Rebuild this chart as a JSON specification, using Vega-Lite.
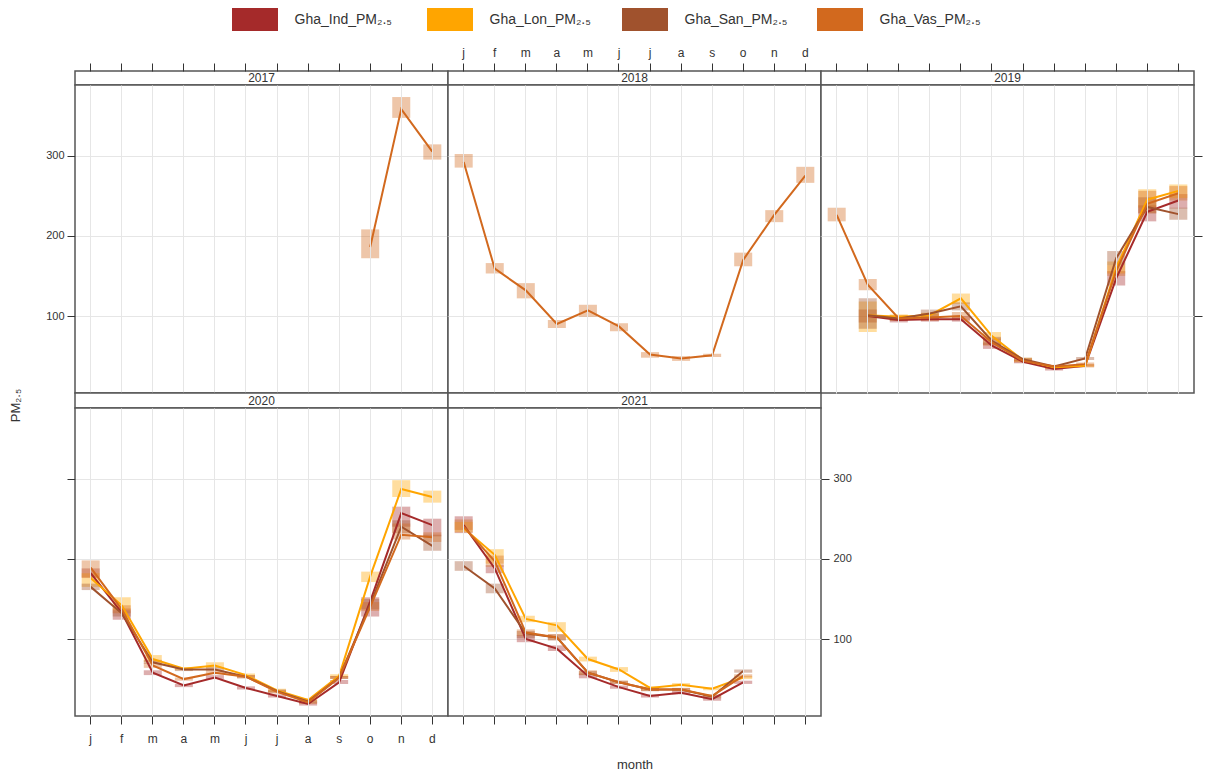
{
  "$schema": "https://vega.github.io/schema/vega-lite/v6.json",
  "background": "white",
  "padding": {"left": 8, "top": 8, "right": 4, "bottom": 4},
  "datasets": {
    "pm": [
      {"year":2017,"month":10,"site":"Gha_Vas_PM₂.₅","value":186,"lo":172,"hi":208},
      {"year":2017,"month":11,"site":"Gha_Vas_PM₂.₅","value":358,"lo":347,"hi":373},
      {"year":2017,"month":12,"site":"Gha_Vas_PM₂.₅","value":305,"lo":295,"hi":314},

      {"year":2018,"month":1,"site":"Gha_Vas_PM₂.₅","value":292,"lo":285,"hi":302},
      {"year":2018,"month":2,"site":"Gha_Vas_PM₂.₅","value":159,"lo":153,"hi":166},
      {"year":2018,"month":3,"site":"Gha_Vas_PM₂.₅","value":132,"lo":122,"hi":141},
      {"year":2018,"month":4,"site":"Gha_Vas_PM₂.₅","value":90,"lo":85,"hi":95},
      {"year":2018,"month":5,"site":"Gha_Vas_PM₂.₅","value":107,"lo":99,"hi":114},
      {"year":2018,"month":6,"site":"Gha_Vas_PM₂.₅","value":87,"lo":81,"hi":91},
      {"year":2018,"month":7,"site":"Gha_Vas_PM₂.₅","value":52,"lo":48,"hi":55},
      {"year":2018,"month":8,"site":"Gha_Vas_PM₂.₅","value":47,"lo":44,"hi":50},
      {"year":2018,"month":9,"site":"Gha_Vas_PM₂.₅","value":51,"lo":49,"hi":53},
      {"year":2018,"month":10,"site":"Gha_Vas_PM₂.₅","value":170,"lo":162,"hi":179},
      {"year":2018,"month":11,"site":"Gha_Vas_PM₂.₅","value":226,"lo":217,"hi":232},
      {"year":2018,"month":12,"site":"Gha_Vas_PM₂.₅","value":275,"lo":266,"hi":286},

      {"year":2019,"month":2,"site":"Gha_Ind_PM₂.₅","value":100,"lo":92,"hi":108},
      {"year":2019,"month":3,"site":"Gha_Ind_PM₂.₅","value":95,"lo":92,"hi":98},
      {"year":2019,"month":4,"site":"Gha_Ind_PM₂.₅","value":96,"lo":93,"hi":99},
      {"year":2019,"month":5,"site":"Gha_Ind_PM₂.₅","value":96,"lo":93,"hi":100},
      {"year":2019,"month":6,"site":"Gha_Ind_PM₂.₅","value":63,"lo":59,"hi":67},
      {"year":2019,"month":7,"site":"Gha_Ind_PM₂.₅","value":43,"lo":41,"hi":45},
      {"year":2019,"month":8,"site":"Gha_Ind_PM₂.₅","value":34,"lo":32,"hi":36},
      {"year":2019,"month":9,"site":"Gha_Ind_PM₂.₅","value":38,"lo":36,"hi":40},
      {"year":2019,"month":10,"site":"Gha_Ind_PM₂.₅","value":147,"lo":138,"hi":156},
      {"year":2019,"month":11,"site":"Gha_Ind_PM₂.₅","value":230,"lo":218,"hi":238},
      {"year":2019,"month":12,"site":"Gha_Ind_PM₂.₅","value":244,"lo":234,"hi":252},

      {"year":2019,"month":2,"site":"Gha_Lon_PM₂.₅","value":101,"lo":80,"hi":118},
      {"year":2019,"month":3,"site":"Gha_Lon_PM₂.₅","value":99,"lo":96,"hi":102},
      {"year":2019,"month":4,"site":"Gha_Lon_PM₂.₅","value":101,"lo":97,"hi":104},
      {"year":2019,"month":5,"site":"Gha_Lon_PM₂.₅","value":122,"lo":115,"hi":128},
      {"year":2019,"month":6,"site":"Gha_Lon_PM₂.₅","value":75,"lo":70,"hi":80},
      {"year":2019,"month":7,"site":"Gha_Lon_PM₂.₅","value":45,"lo":43,"hi":48},
      {"year":2019,"month":8,"site":"Gha_Lon_PM₂.₅","value":36,"lo":34,"hi":38},
      {"year":2019,"month":9,"site":"Gha_Lon_PM₂.₅","value":38,"lo":36,"hi":40},
      {"year":2019,"month":10,"site":"Gha_Lon_PM₂.₅","value":160,"lo":153,"hi":168},
      {"year":2019,"month":11,"site":"Gha_Lon_PM₂.₅","value":245,"lo":235,"hi":258},
      {"year":2019,"month":12,"site":"Gha_Lon_PM₂.₅","value":256,"lo":247,"hi":264},

      {"year":2019,"month":2,"site":"Gha_San_PM₂.₅","value":101,"lo":84,"hi":122},
      {"year":2019,"month":3,"site":"Gha_San_PM₂.₅","value":97,"lo":94,"hi":100},
      {"year":2019,"month":4,"site":"Gha_San_PM₂.₅","value":103,"lo":98,"hi":108},
      {"year":2019,"month":5,"site":"Gha_San_PM₂.₅","value":112,"lo":107,"hi":117},
      {"year":2019,"month":6,"site":"Gha_San_PM₂.₅","value":69,"lo":64,"hi":74},
      {"year":2019,"month":7,"site":"Gha_San_PM₂.₅","value":46,"lo":44,"hi":48},
      {"year":2019,"month":8,"site":"Gha_San_PM₂.₅","value":37,"lo":35,"hi":39},
      {"year":2019,"month":9,"site":"Gha_San_PM₂.₅","value":47,"lo":45,"hi":49},
      {"year":2019,"month":10,"site":"Gha_San_PM₂.₅","value":172,"lo":163,"hi":181},
      {"year":2019,"month":11,"site":"Gha_San_PM₂.₅","value":236,"lo":228,"hi":248},
      {"year":2019,"month":12,"site":"Gha_San_PM₂.₅","value":227,"lo":220,"hi":235},

      {"year":2019,"month":1,"site":"Gha_Vas_PM₂.₅","value":226,"lo":218,"hi":235},
      {"year":2019,"month":2,"site":"Gha_Vas_PM₂.₅","value":139,"lo":132,"hi":146},
      {"year":2019,"month":3,"site":"Gha_Vas_PM₂.₅","value":97,"lo":94,"hi":101},
      {"year":2019,"month":4,"site":"Gha_Vas_PM₂.₅","value":98,"lo":94,"hi":103},
      {"year":2019,"month":5,"site":"Gha_Vas_PM₂.₅","value":100,"lo":95,"hi":105},
      {"year":2019,"month":6,"site":"Gha_Vas_PM₂.₅","value":67,"lo":63,"hi":72},
      {"year":2019,"month":7,"site":"Gha_Vas_PM₂.₅","value":44,"lo":42,"hi":47},
      {"year":2019,"month":8,"site":"Gha_Vas_PM₂.₅","value":37,"lo":35,"hi":39},
      {"year":2019,"month":9,"site":"Gha_Vas_PM₂.₅","value":40,"lo":38,"hi":42},
      {"year":2019,"month":10,"site":"Gha_Vas_PM₂.₅","value":156,"lo":150,"hi":163},
      {"year":2019,"month":11,"site":"Gha_Vas_PM₂.₅","value":240,"lo":228,"hi":256},
      {"year":2019,"month":12,"site":"Gha_Vas_PM₂.₅","value":253,"lo":244,"hi":262},

      {"year":2020,"month":1,"site":"Gha_Ind_PM₂.₅","value":182,"lo":176,"hi":188},
      {"year":2020,"month":2,"site":"Gha_Ind_PM₂.₅","value":133,"lo":124,"hi":138},
      {"year":2020,"month":3,"site":"Gha_Ind_PM₂.₅","value":58,"lo":55,"hi":61},
      {"year":2020,"month":4,"site":"Gha_Ind_PM₂.₅","value":42,"lo":40,"hi":44},
      {"year":2020,"month":5,"site":"Gha_Ind_PM₂.₅","value":52,"lo":50,"hi":55},
      {"year":2020,"month":6,"site":"Gha_Ind_PM₂.₅","value":39,"lo":37,"hi":41},
      {"year":2020,"month":7,"site":"Gha_Ind_PM₂.₅","value":29,"lo":27,"hi":31},
      {"year":2020,"month":8,"site":"Gha_Ind_PM₂.₅","value":19,"lo":17,"hi":21},
      {"year":2020,"month":9,"site":"Gha_Ind_PM₂.₅","value":46,"lo":44,"hi":49},
      {"year":2020,"month":10,"site":"Gha_Ind_PM₂.₅","value":147,"lo":128,"hi":152},
      {"year":2020,"month":11,"site":"Gha_Ind_PM₂.₅","value":257,"lo":240,"hi":265},
      {"year":2020,"month":12,"site":"Gha_Ind_PM₂.₅","value":242,"lo":228,"hi":250},

      {"year":2020,"month":1,"site":"Gha_Lon_PM₂.₅","value":176,"lo":165,"hi":182},
      {"year":2020,"month":2,"site":"Gha_Lon_PM₂.₅","value":142,"lo":136,"hi":152},
      {"year":2020,"month":3,"site":"Gha_Lon_PM₂.₅","value":75,"lo":71,"hi":80},
      {"year":2020,"month":4,"site":"Gha_Lon_PM₂.₅","value":63,"lo":61,"hi":65},
      {"year":2020,"month":5,"site":"Gha_Lon_PM₂.₅","value":67,"lo":64,"hi":71},
      {"year":2020,"month":6,"site":"Gha_Lon_PM₂.₅","value":55,"lo":53,"hi":57},
      {"year":2020,"month":7,"site":"Gha_Lon_PM₂.₅","value":36,"lo":34,"hi":38},
      {"year":2020,"month":8,"site":"Gha_Lon_PM₂.₅","value":24,"lo":22,"hi":26},
      {"year":2020,"month":9,"site":"Gha_Lon_PM₂.₅","value":54,"lo":52,"hi":56},
      {"year":2020,"month":10,"site":"Gha_Lon_PM₂.₅","value":178,"lo":171,"hi":184},
      {"year":2020,"month":11,"site":"Gha_Lon_PM₂.₅","value":287,"lo":277,"hi":298},
      {"year":2020,"month":12,"site":"Gha_Lon_PM₂.₅","value":277,"lo":270,"hi":285},

      {"year":2020,"month":1,"site":"Gha_San_PM₂.₅","value":165,"lo":161,"hi":169},
      {"year":2020,"month":2,"site":"Gha_San_PM₂.₅","value":132,"lo":128,"hi":136},
      {"year":2020,"month":3,"site":"Gha_San_PM₂.₅","value":71,"lo":69,"hi":74},
      {"year":2020,"month":4,"site":"Gha_San_PM₂.₅","value":62,"lo":60,"hi":64},
      {"year":2020,"month":5,"site":"Gha_San_PM₂.₅","value":62,"lo":60,"hi":65},
      {"year":2020,"month":6,"site":"Gha_San_PM₂.₅","value":53,"lo":51,"hi":55},
      {"year":2020,"month":7,"site":"Gha_San_PM₂.₅","value":35,"lo":33,"hi":37},
      {"year":2020,"month":8,"site":"Gha_San_PM₂.₅","value":22,"lo":20,"hi":24},
      {"year":2020,"month":9,"site":"Gha_San_PM₂.₅","value":52,"lo":50,"hi":54},
      {"year":2020,"month":10,"site":"Gha_San_PM₂.₅","value":143,"lo":137,"hi":150},
      {"year":2020,"month":11,"site":"Gha_San_PM₂.₅","value":240,"lo":232,"hi":248},
      {"year":2020,"month":12,"site":"Gha_San_PM₂.₅","value":216,"lo":210,"hi":230},

      {"year":2020,"month":1,"site":"Gha_Vas_PM₂.₅","value":189,"lo":177,"hi":198},
      {"year":2020,"month":2,"site":"Gha_Vas_PM₂.₅","value":137,"lo":132,"hi":142},
      {"year":2020,"month":3,"site":"Gha_Vas_PM₂.₅","value":67,"lo":64,"hi":70},
      {"year":2020,"month":4,"site":"Gha_Vas_PM₂.₅","value":50,"lo":48,"hi":52},
      {"year":2020,"month":5,"site":"Gha_Vas_PM₂.₅","value":58,"lo":56,"hi":60},
      {"year":2020,"month":6,"site":"Gha_Vas_PM₂.₅","value":53,"lo":51,"hi":55},
      {"year":2020,"month":7,"site":"Gha_Vas_PM₂.₅","value":34,"lo":32,"hi":36},
      {"year":2020,"month":8,"site":"Gha_Vas_PM₂.₅","value":21,"lo":19,"hi":23},
      {"year":2020,"month":9,"site":"Gha_Vas_PM₂.₅","value":52,"lo":50,"hi":54},
      {"year":2020,"month":10,"site":"Gha_Vas_PM₂.₅","value":140,"lo":135,"hi":146},
      {"year":2020,"month":11,"site":"Gha_Vas_PM₂.₅","value":230,"lo":224,"hi":244},
      {"year":2020,"month":12,"site":"Gha_Vas_PM₂.₅","value":227,"lo":221,"hi":233},

      {"year":2021,"month":1,"site":"Gha_Ind_PM₂.₅","value":242,"lo":232,"hi":253},
      {"year":2021,"month":2,"site":"Gha_Ind_PM₂.₅","value":188,"lo":182,"hi":192},
      {"year":2021,"month":3,"site":"Gha_Ind_PM₂.₅","value":100,"lo":96,"hi":105},
      {"year":2021,"month":4,"site":"Gha_Ind_PM₂.₅","value":88,"lo":85,"hi":92},
      {"year":2021,"month":5,"site":"Gha_Ind_PM₂.₅","value":54,"lo":51,"hi":57},
      {"year":2021,"month":6,"site":"Gha_Ind_PM₂.₅","value":40,"lo":38,"hi":42},
      {"year":2021,"month":7,"site":"Gha_Ind_PM₂.₅","value":29,"lo":27,"hi":31},
      {"year":2021,"month":8,"site":"Gha_Ind_PM₂.₅","value":33,"lo":31,"hi":35},
      {"year":2021,"month":9,"site":"Gha_Ind_PM₂.₅","value":25,"lo":23,"hi":27},
      {"year":2021,"month":10,"site":"Gha_Ind_PM₂.₅","value":46,"lo":44,"hi":48},

      {"year":2021,"month":1,"site":"Gha_Lon_PM₂.₅","value":238,"lo":233,"hi":246},
      {"year":2021,"month":2,"site":"Gha_Lon_PM₂.₅","value":205,"lo":194,"hi":212},
      {"year":2021,"month":3,"site":"Gha_Lon_PM₂.₅","value":125,"lo":121,"hi":129},
      {"year":2021,"month":4,"site":"Gha_Lon_PM₂.₅","value":117,"lo":109,"hi":121},
      {"year":2021,"month":5,"site":"Gha_Lon_PM₂.₅","value":75,"lo":72,"hi":78},
      {"year":2021,"month":6,"site":"Gha_Lon_PM₂.₅","value":62,"lo":59,"hi":65},
      {"year":2021,"month":7,"site":"Gha_Lon_PM₂.₅","value":39,"lo":37,"hi":41},
      {"year":2021,"month":8,"site":"Gha_Lon_PM₂.₅","value":43,"lo":41,"hi":45},
      {"year":2021,"month":9,"site":"Gha_Lon_PM₂.₅","value":38,"lo":36,"hi":40},
      {"year":2021,"month":10,"site":"Gha_Lon_PM₂.₅","value":52,"lo":50,"hi":54},

      {"year":2021,"month":1,"site":"Gha_San_PM₂.₅","value":191,"lo":185,"hi":197},
      {"year":2021,"month":2,"site":"Gha_San_PM₂.₅","value":163,"lo":157,"hi":169},
      {"year":2021,"month":3,"site":"Gha_San_PM₂.₅","value":107,"lo":101,"hi":110},
      {"year":2021,"month":4,"site":"Gha_San_PM₂.₅","value":102,"lo":98,"hi":106},
      {"year":2021,"month":5,"site":"Gha_San_PM₂.₅","value":58,"lo":55,"hi":60},
      {"year":2021,"month":6,"site":"Gha_San_PM₂.₅","value":46,"lo":44,"hi":48},
      {"year":2021,"month":7,"site":"Gha_San_PM₂.₅","value":37,"lo":35,"hi":39},
      {"year":2021,"month":8,"site":"Gha_San_PM₂.₅","value":37,"lo":35,"hi":39},
      {"year":2021,"month":9,"site":"Gha_San_PM₂.₅","value":28,"lo":26,"hi":30},
      {"year":2021,"month":10,"site":"Gha_San_PM₂.₅","value":60,"lo":58,"hi":62},

      {"year":2021,"month":1,"site":"Gha_Vas_PM₂.₅","value":240,"lo":236,"hi":249},
      {"year":2021,"month":2,"site":"Gha_Vas_PM₂.₅","value":197,"lo":190,"hi":204},
      {"year":2021,"month":3,"site":"Gha_Vas_PM₂.₅","value":108,"lo":104,"hi":112},
      {"year":2021,"month":4,"site":"Gha_Vas_PM₂.₅","value":102,"lo":99,"hi":106},
      {"year":2021,"month":5,"site":"Gha_Vas_PM₂.₅","value":58,"lo":55,"hi":61},
      {"year":2021,"month":6,"site":"Gha_Vas_PM₂.₅","value":46,"lo":44,"hi":48},
      {"year":2021,"month":7,"site":"Gha_Vas_PM₂.₅","value":37,"lo":35,"hi":39},
      {"year":2021,"month":8,"site":"Gha_Vas_PM₂.₅","value":37,"lo":35,"hi":39},
      {"year":2021,"month":9,"site":"Gha_Vas_PM₂.₅","value":29,"lo":27,"hi":31},
      {"year":2021,"month":10,"site":"Gha_Vas_PM₂.₅","value":54,"lo":52,"hi":56}
    ]
  },
  "config": {
    "font": "Liberation Sans",
    "view": {"stroke": "#555555", "strokeWidth": 1.5, "fill": "white"},
    "concat": {"spacing": 0},
    "axis": {
      "domain": false,
      "tickColor": "#333333",
      "tickWidth": 1,
      "tickSize": 8,
      "labelFontSize": 11,
      "labelColor": "#333333",
      "gridColor": "#e6e6e6",
      "gridWidth": 1,
      "titleFontWeight": "normal",
      "titleColor": "#333333",
      "titleFontSize": 13
    },
    "legend": {
      "orient": "none",
      "legendX": 168.5,
      "legendY": -63,
      "direction": "horizontal",
      "symbolType": "M-2,-1H2V1H-2Z",
      "symbolSize": 529,
      "symbolStrokeWidth": 0,
      "symbolOpacity": 1,
      "labelFontSize": 14,
      "labelColor": "#333333",
      "labelOffset": 28,
      "gridAlign": "all",
      "columnPadding": 29,
      "padding": 0
    }
  },
  "spacing": 0,
  "bounds": "flush",
  "columns": 3,
  "concat": [
    {"width": 373, "height": 14, "data": {"values": [{"year": "2017"}]}, "layer": [{"mark": {"type": "rect", "fill": "white", "stroke": "#555555", "strokeWidth": 1.5}}, {"mark": {"type": "text", "fontSize": 12, "color": "#333333"}, "encoding": {"text": {"field": "year"}}}]},
    {"width": 373, "height": 14, "data": {"values": [{"year": "2018"}]}, "layer": [{"mark": {"type": "rect", "fill": "white", "stroke": "#555555", "strokeWidth": 1.5}}, {"mark": {"type": "text", "fontSize": 12, "color": "#333333"}, "encoding": {"text": {"field": "year"}}}]},
    {"width": 373, "height": 14, "data": {"values": [{"year": "2019"}]}, "layer": [{"mark": {"type": "rect", "fill": "white", "stroke": "#555555", "strokeWidth": 1.5}}, {"mark": {"type": "text", "fontSize": 12, "color": "#333333"}, "encoding": {"text": {"field": "year"}}}]},
    {
      "width": 373, "height": 308,
      "data": {"name": "pm"},
      "transform": [{"filter": "datum.year == 2017"}],
      "encoding": {
        "x": {"field": "month", "type": "ordinal", "scale": {"type": "band", "domain": [1,2,3,4,5,6,7,8,9,10,11,12], "paddingInner": 0.42, "paddingOuter": 0.215},
              "axis": {"orient": "top", "offset": 14, "labels": false, "ticks": true, "grid": true, "title": null}},
        "color": {"field": "site", "type": "nominal", "scale": {"domain": ["Gha_Ind_PM₂.₅","Gha_Lon_PM₂.₅","Gha_San_PM₂.₅","Gha_Vas_PM₂.₅"], "range": ["#A52A2A","#FFA500","#A0522D","#D2691E"]}, "legend": {"title": null}}
      },
      "layer": [
        {"mark": {"type": "rect", "fillOpacity": 0.38}, "encoding": {"y": {"field": "lo", "type": "quantitative", "scale": {"domain": [4, 388], "nice": false, "zero": false},
          "axis": {"orient": "left", "values": [100, 200, 300], "labels": true, "ticks": true, "grid": true, "labelPadding": 3, "title": "PM₂.₅", "titleX": -60, "titleY": 320, "titleAngle": 270, "titleAlign": "center", "titleBaseline": "middle"}}, "y2": {"field": "hi"}}},
        {"mark": {"type": "line", "strokeWidth": 2}, "encoding": {"y": {"field": "value", "type": "quantitative", "scale": {"domain": [4, 388], "nice": false, "zero": false},
          "axis": {"orient": "left", "values": [100, 200, 300], "labels": true, "ticks": true, "grid": true, "labelPadding": 3, "title": "PM₂.₅", "titleX": -60, "titleY": 320, "titleAngle": 270, "titleAlign": "center", "titleBaseline": "middle"}}}}
      ]
    },
    {
      "width": 373, "height": 308,
      "data": {"name": "pm"},
      "transform": [{"filter": "datum.year == 2018"}],
      "encoding": {
        "x": {"field": "month", "type": "ordinal", "scale": {"type": "band", "domain": [1,2,3,4,5,6,7,8,9,10,11,12], "paddingInner": 0.42, "paddingOuter": 0.215},
              "axis": {"orient": "top", "offset": 14, "labels": true, "labelAngle": 0, "labelPadding": 4, "labelFontSize": 12, "labelExpr": "['j','f','m','a','m','j','j','a','s','o','n','d'][datum.value-1]", "ticks": true, "grid": true, "title": null}},
        "color": {"field": "site", "type": "nominal", "scale": {"domain": ["Gha_Ind_PM₂.₅","Gha_Lon_PM₂.₅","Gha_San_PM₂.₅","Gha_Vas_PM₂.₅"], "range": ["#A52A2A","#FFA500","#A0522D","#D2691E"]}, "legend": {"title": null}}
      },
      "layer": [
        {"mark": {"type": "rect", "fillOpacity": 0.38}, "encoding": {"y": {"field": "lo", "type": "quantitative", "scale": {"domain": [4, 388], "nice": false, "zero": false},
          "axis": {"orient": "left", "values": [100, 200, 300], "labels": false, "ticks": false, "grid": true, "title": null}}, "y2": {"field": "hi"}}},
        {"mark": {"type": "line", "strokeWidth": 2}, "encoding": {"y": {"field": "value", "type": "quantitative", "scale": {"domain": [4, 388], "nice": false, "zero": false},
          "axis": {"orient": "left", "values": [100, 200, 300], "labels": false, "ticks": false, "grid": true, "title": null}}}}
      ]
    },
    {
      "width": 373, "height": 308,
      "data": {"name": "pm"},
      "transform": [{"filter": "datum.year == 2019"}],
      "encoding": {
        "x": {"field": "month", "type": "ordinal", "scale": {"type": "band", "domain": [1,2,3,4,5,6,7,8,9,10,11,12], "paddingInner": 0.42, "paddingOuter": 0.215},
              "axis": {"orient": "top", "offset": 14, "labels": false, "ticks": true, "grid": true, "title": null}},
        "color": {"field": "site", "type": "nominal", "scale": {"domain": ["Gha_Ind_PM₂.₅","Gha_Lon_PM₂.₅","Gha_San_PM₂.₅","Gha_Vas_PM₂.₅"], "range": ["#A52A2A","#FFA500","#A0522D","#D2691E"]}, "legend": {"title": null}}
      },
      "layer": [
        {"mark": {"type": "rect", "fillOpacity": 0.38}, "encoding": {"y": {"field": "lo", "type": "quantitative", "scale": {"domain": [4, 388], "nice": false, "zero": false},
          "axis": {"orient": "right", "values": [100, 200, 300], "labels": false, "ticks": true, "grid": true, "title": null}}, "y2": {"field": "hi"}}},
        {"mark": {"type": "line", "strokeWidth": 2}, "encoding": {"y": {"field": "value", "type": "quantitative", "scale": {"domain": [4, 388], "nice": false, "zero": false},
          "axis": {"orient": "right", "values": [100, 200, 300], "labels": false, "ticks": true, "grid": true, "title": null}}}}
      ]
    },
    {"width": 373, "height": 15, "data": {"values": [{"year": "2020"}]}, "layer": [{"mark": {"type": "rect", "fill": "white", "stroke": "#555555", "strokeWidth": 1.5}}, {"mark": {"type": "text", "fontSize": 12, "color": "#333333"}, "encoding": {"text": {"field": "year"}}}]},
    {"width": 373, "height": 15, "data": {"values": [{"year": "2021"}]}, "layer": [{"mark": {"type": "rect", "fill": "white", "stroke": "#555555", "strokeWidth": 1.5}}, {"mark": {"type": "text", "fontSize": 12, "color": "#333333"}, "encoding": {"text": {"field": "year"}}}]},
    {"width": 373, "height": 15, "view": {"stroke": null, "fill": null}, "data": {"values": [{"year": ""}]}, "mark": {"type": "text", "fontSize": 12, "color": "#333333"}, "encoding": {"text": {"field": "year"}}},
    {
      "width": 373, "height": 308,
      "data": {"name": "pm"},
      "transform": [{"filter": "datum.year == 2020"}],
      "encoding": {
        "x": {"field": "month", "type": "ordinal", "scale": {"type": "band", "domain": [1,2,3,4,5,6,7,8,9,10,11,12], "paddingInner": 0.42, "paddingOuter": 0.215},
              "axis": {"orient": "bottom", "labels": true, "labelAngle": 0, "labelPadding": 9, "labelFontSize": 12, "labelExpr": "['j','f','m','a','m','j','j','a','s','o','n','d'][datum.value-1]", "ticks": true, "grid": true, "title": null}},
        "color": {"field": "site", "type": "nominal", "scale": {"domain": ["Gha_Ind_PM₂.₅","Gha_Lon_PM₂.₅","Gha_San_PM₂.₅","Gha_Vas_PM₂.₅"], "range": ["#A52A2A","#FFA500","#A0522D","#D2691E"]}, "legend": {"title": null}}
      },
      "layer": [
        {"mark": {"type": "rect", "fillOpacity": 0.38}, "encoding": {"y": {"field": "lo", "type": "quantitative", "scale": {"domain": [4, 388], "nice": false, "zero": false},
          "axis": {"orient": "left", "values": [100, 200, 300], "labels": false, "ticks": true, "grid": true, "title": null}}, "y2": {"field": "hi"}}},
        {"mark": {"type": "line", "strokeWidth": 2}, "encoding": {"y": {"field": "value", "type": "quantitative", "scale": {"domain": [4, 388], "nice": false, "zero": false},
          "axis": {"orient": "left", "values": [100, 200, 300], "labels": false, "ticks": true, "grid": true, "title": null}}}}
      ]
    },
    {
      "width": 373, "height": 308,
      "data": {"name": "pm"},
      "transform": [{"filter": "datum.year == 2021"}],
      "encoding": {
        "x": {"field": "month", "type": "ordinal", "scale": {"type": "band", "domain": [1,2,3,4,5,6,7,8,9,10,11,12], "paddingInner": 0.42, "paddingOuter": 0.215},
              "axis": {"orient": "bottom", "labels": false, "ticks": true, "grid": true, "title": "month", "titlePadding": 34}},
        "color": {"field": "site", "type": "nominal", "scale": {"domain": ["Gha_Ind_PM₂.₅","Gha_Lon_PM₂.₅","Gha_San_PM₂.₅","Gha_Vas_PM₂.₅"], "range": ["#A52A2A","#FFA500","#A0522D","#D2691E"]}, "legend": {"title": null}}
      },
      "layer": [
        {"mark": {"type": "rect", "fillOpacity": 0.38}, "encoding": {"y": {"field": "lo", "type": "quantitative", "scale": {"domain": [4, 388], "nice": false, "zero": false},
          "axis": {"orient": "right", "values": [100, 200, 300], "labels": true, "labelPadding": 4, "ticks": true, "grid": true, "title": null}}, "y2": {"field": "hi"}}},
        {"mark": {"type": "line", "strokeWidth": 2}, "encoding": {"y": {"field": "value", "type": "quantitative", "scale": {"domain": [4, 388], "nice": false, "zero": false},
          "axis": {"orient": "right", "values": [100, 200, 300], "labels": true, "labelPadding": 4, "ticks": true, "grid": true, "title": null}}}}
      ]
    }
  ]
}
